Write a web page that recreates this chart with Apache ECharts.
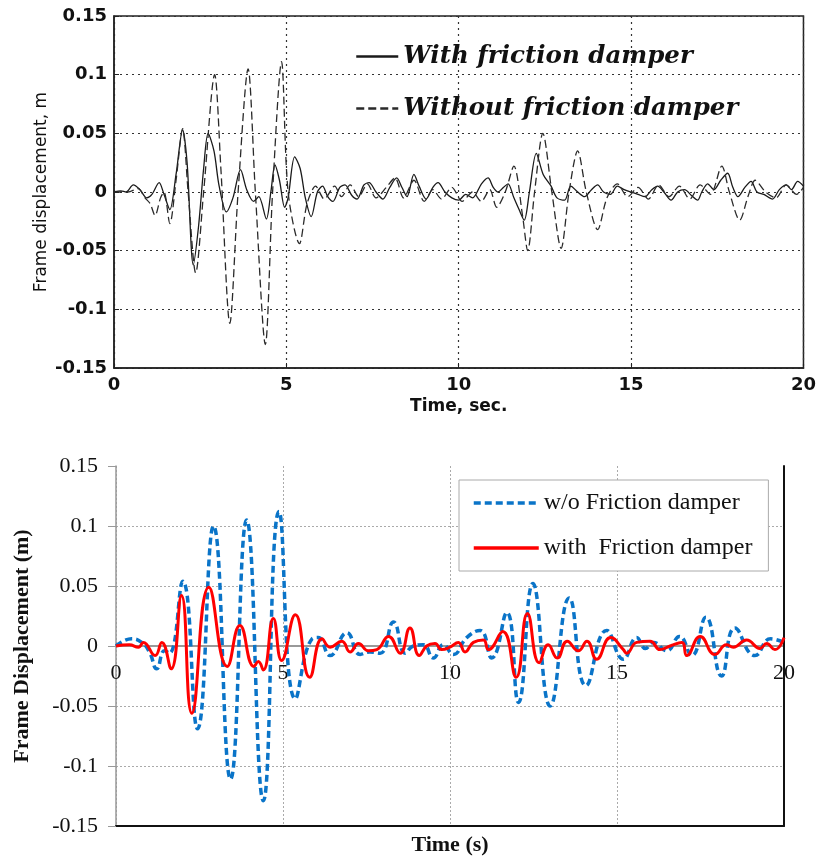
<!DOCTYPE html>
<html><head><meta charset="utf-8">
<script src="https://cdn.jsdelivr.net/npm/echarts@6/dist/echarts.min.js"></script>
<style>html,body{margin:0;padding:0;background:#fff}#c{width:819px;height:857px}</style>
</head><body><div id="c"></div><script>
// ---- data (time s, displacement m) ----
const topWith = [[0,0],[0.2,0.001],[0.35,0],[0.56,0.006],[0.75,0.002],[0.95,-0.005],[1.1,-0.002],[1.31,0.008],[1.45,-0.002],[1.62,-0.015],[1.8,0.015],[1.99,0.053],[2.12,0.025],[2.3,-0.062],[2.45,-0.03],[2.6,0.02],[2.73,0.05],[2.9,0.035],[3.05,0.005],[3.26,-0.017],[3.45,-0.005],[3.67,0.019],[3.85,0.002],[4.05,-0.008],[4.2,-0.004],[4.42,-0.023],[4.55,0.0],[4.67,0.023],[4.8,0.01],[4.95,-0.013],[5.05,-0.005],[5.24,0.030],[5.4,0.02],[5.55,-0.005],[5.72,-0.021],[5.9,0.0],[6.05,0.005],[6.2,-0.004],[6.35,-0.008],[6.55,0.004],[6.7,0.006],[6.9,-0.003],[7.05,-0.006],[7.25,0.006],[7.4,0.008],[7.6,0.0],[7.8,-0.006],[8.0,0.004],[8.2,0.012],[8.35,0.004],[8.5,-0.004],[8.7,0.015],[8.85,0.005],[9.05,-0.006],[9.25,0.004],[9.4,0.008],[9.6,0.0],[9.8,-0.005],[10.0,-0.007],[10.2,-0.002],[10.4,-0.005],[10.66,0.007],[10.85,0.012],[11.0,0.004],[11.14,0.0],[11.3,0.004],[11.43,0.007],[11.6,-0.005],[11.75,-0.015],[11.9,-0.024],[12.05,0.0],[12.25,0.033],[12.45,0.015],[12.68,0.005],[12.85,-0.005],[13.07,-0.007],[13.25,0.005],[13.45,0.0],[13.65,-0.004],[13.85,0.002],[14.03,0.006],[14.2,0.0],[14.4,-0.002],[14.6,0.005],[14.8,0.002],[15.0,0.0],[15.2,-0.002],[15.4,-0.004],[15.6,0.002],[15.77,0.005],[15.95,0.0],[16.16,-0.007],[16.35,0.0],[16.55,0.002],[16.75,-0.003],[16.93,-0.007],[17.05,0.0],[17.22,0.007],[17.4,0.002],[17.6,0.01],[17.8,0.016],[17.95,0.004],[18.1,-0.004],[18.3,0.004],[18.48,0.009],[18.65,0.0],[18.85,-0.002],[19.1,-0.006],[19.3,0.002],[19.5,0.006],[19.65,0.002],[19.83,0.009],[20,0.005]];
const topWithout = [[0,0],[0.4,0.0],[0.7,0.003],[0.9,-0.005],[1.05,-0.01],[1.19,-0.02],[1.35,-0.005],[1.45,0.0],[1.62,-0.027],[1.8,0.01],[1.99,0.054],[2.15,0.0],[2.37,-0.069],[2.6,0.0],[2.92,0.100],[3.1,0.02],[3.36,-0.112],[3.6,0.0],[3.89,0.105],[4.1,0.0],[4.39,-0.130],[4.6,0.0],[4.86,0.111],[5.05,0.0],[5.38,-0.044],[5.6,-0.01],[5.85,0.005],[6.1,-0.006],[6.4,0.005],[6.6,-0.004],[6.85,0.006],[7.1,-0.004],[7.35,0.007],[7.6,-0.005],[7.9,0.004],[8.15,0.012],[8.4,-0.005],[8.7,0.01],[9.0,-0.008],[9.25,0.002],[9.5,-0.006],[9.8,0.004],[10.1,-0.008],[10.4,0.0],[10.65,-0.008],[10.9,0.002],[11.1,-0.013],[11.35,0.0],[11.6,0.022],[11.85,-0.02],[12.0,-0.05],[12.2,0.0],[12.44,0.05],[12.7,0.0],[12.97,-0.048],[13.2,0.0],[13.45,0.035],[13.7,0.0],[14.03,-0.032],[14.3,-0.005],[14.6,0.007],[14.9,-0.004],[15.2,0.004],[15.5,-0.006],[15.8,0.006],[16.1,-0.004],[16.4,0.005],[16.7,-0.006],[17.0,0.006],[17.3,-0.002],[17.63,0.022],[17.85,0.0],[18.15,-0.024],[18.4,-0.003],[18.6,0.01],[18.9,0.0],[19.2,-0.005],[19.5,0.006],[19.8,-0.002],[20,0.004]];
const botWithout = [[0,0],[0.47,0.006],[0.77,0.003],[1.0,-0.005],[1.22,-0.019],[1.45,-0.004],[1.6,-0.006],[2.0,0.054],[2.44,-0.069],[2.92,0.100],[3.43,-0.111],[3.91,0.105],[4.41,-0.129],[4.88,0.112],[5.37,-0.044],[5.87,0.006],[6.05,0.007],[6.41,-0.008],[6.91,0.011],[7.31,-0.007],[7.6,-0.005],[7.91,-0.006],[8.31,0.020],[8.66,-0.006],[8.9,0.0],[9.2,0.001],[9.5,-0.010],[9.8,0.001],[10.1,-0.007],[10.5,0.007],[10.9,0.013],[11.25,-0.010],[11.7,0.028],[12.05,-0.047],[12.48,0.052],[13.0,-0.050],[13.57,0.040],[14.07,-0.033],[14.69,0.013],[15.19,-0.011],[15.59,0.007],[15.85,-0.002],[16.09,0.003],[16.49,-0.004],[16.87,0.008],[17.24,-0.008],[17.66,0.024],[18.13,-0.025],[18.53,0.015],[19.13,-0.008],[19.6,0.006],[20,0.003]];
const botWith = [[0,0],[0.4,0.001],[0.67,-0.001],[0.82,0.003],[1.17,-0.008],[1.37,0.003],[1.65,-0.019],[1.96,0.042],[2.27,-0.056],[2.78,0.049],[3.33,-0.017],[3.71,0.017],[4.13,-0.017],[4.26,-0.013],[4.41,-0.020],[4.71,0.023],[4.96,-0.012],[5.37,0.026],[5.8,-0.026],[6.17,0.006],[6.41,-0.001],[6.76,0.004],[7.01,-0.005],[7.26,0.002],[7.56,-0.004],[7.81,-0.003],[8.16,0.008],[8.51,-0.006],[8.8,0.015],[9.08,-0.008],[9.3,0.0],[9.55,0.002],[9.75,-0.003],[10.0,-0.001],[10.25,0.003],[10.45,-0.005],[10.7,0.003],[11.0,0.005],[11.15,-0.003],[11.58,0.012],[11.98,-0.026],[12.32,0.027],[12.67,-0.014],[12.94,0.001],[13.21,-0.010],[13.51,0.004],[13.84,-0.004],[14.1,0.004],[14.39,-0.011],[14.81,0.007],[15.19,-0.003],[15.29,-0.006],[15.59,0.003],[15.99,0.004],[16.29,-0.003],[16.59,0.0],[16.94,0.003],[17.09,-0.008],[17.49,0.008],[17.93,-0.007],[18.28,0.001],[18.48,-0.001],[18.88,0.005],[19.28,-0.002],[19.48,0.002],[19.73,-0.003],[20,0.007]];
const timeRange = [0, 20];
const dispRange = [-0.15, 0.15];
const topNames = ['With friction damper', 'Without friction damper'];
const botNames = ['w/o Friction damper', 'with  Friction damper'];

const chart = echarts.init(document.getElementById('c'), null, {renderer: 'canvas'});
const sansTxt = {fontFamily: 'DejaVu Sans', fontWeight: 'bold', fontSize: 18, color: '#111'};
const serifTxt = {fontFamily: 'Liberation Serif', fontSize: 22, color: '#111'};
const dotBlack = {show: true, lineStyle: {color: '#333', type: [2, 4], width: 1.2}};
const dotGray = {show: true, lineStyle: {color: '#aaa', type: [2, 2], width: 1}};
const noSymbol = {color: 'transparent', borderWidth: 0, opacity: 0};

chart.setOption({
  animation: false,
  backgroundColor: '#fff',
  grid: [
    {left: 114, top: 16, width: 693, height: 352, show: true, borderColor: '#222', borderWidth: 1.5, containLabel: false},
    {left: 116, top: 466, width: 668, height: 361, containLabel: false}
  ],
  legend: [
    {data: topNames, orient: 'vertical', left: 350, top: 39, itemWidth: 42, itemHeight: 14, itemGap: 27,
     selectedMode: false, lineStyle: {width: 2.5}, itemStyle: noSymbol,
     textStyle: {fontFamily: 'DejaVu Serif', fontStyle: 'italic', fontWeight: 'bold', fontSize: 24.5, color: '#111'}},
    {data: botNames, orient: 'vertical', left: 459, top: 480, itemWidth: 65, itemHeight: 14, itemGap: 21,
     padding: [11, 16, 11, 13], borderColor: '#aaa', borderWidth: 1, backgroundColor: '#fff',
     selectedMode: false, lineStyle: {width: 3.5}, itemStyle: noSymbol,
     textStyle: {fontFamily: 'Liberation Serif', fontSize: 24, color: '#111'}}
  ],
  xAxis: [
    {gridIndex: 0, type: 'value', min: timeRange[0], max: timeRange[1], interval: 5,
     axisLine: {onZero: false, lineStyle: {color: '#222', width: 1.5}},
     axisTick: {inside: true, length: 5, lineStyle: {color: '#222'}},
     axisLabel: Object.assign({margin: 8}, sansTxt),
     splitLine: dotBlack,
     name: 'Time, sec.', nameLocation: 'middle', nameGap: 30,
     nameTextStyle: {fontFamily: 'DejaVu Sans', fontWeight: 'bold', fontSize: 17, color: '#111'}},
    {gridIndex: 1, type: 'value', min: timeRange[0], max: timeRange[1], interval: 5, position: 'bottom',
     axisLine: {onZero: false, lineStyle: {color: '#111', width: 2}},
     axisTick: {show: false},
     axisLabel: Object.assign({margin: -164}, serifTxt),
     splitLine: dotGray,
     name: 'Time (s)', nameLocation: 'middle', nameGap: 8, nameMoveOverlap: false,
     nameTextStyle: {fontFamily: 'Liberation Serif', fontWeight: 'bold', fontSize: 22, color: '#111', verticalAlign: 'top'}}
  ],
  yAxis: [
    {gridIndex: 0, type: 'value', min: dispRange[0], max: dispRange[1], interval: 0.05,
     axisLine: {onZero: false, lineStyle: {color: '#222', width: 1.5}},
     axisTick: {inside: true, length: 5, lineStyle: {color: '#222'}},
     axisLabel: Object.assign({margin: 7}, sansTxt),
     splitLine: dotBlack,
     name: 'Frame displacement, m', nameLocation: 'middle', nameGap: 64, nameMoveOverlap: false,
     nameTextStyle: {fontFamily: 'DejaVu Sans', fontSize: 17, color: '#111'}},
    {gridIndex: 1, type: 'value', min: dispRange[0], max: dispRange[1], interval: 0.05,
     axisLine: {onZero: false, lineStyle: {color: '#999', width: 1.5}},
     axisTick: {show: true, length: 8, lineStyle: {color: '#999'}},
     axisLabel: Object.assign({margin: 18}, serifTxt),
     splitLine: Object.assign({showMaxLine: false}, dotGray),
     name: 'Frame Displacement (m)', nameLocation: 'middle', nameGap: 83,
     nameTextStyle: {fontFamily: 'Liberation Serif', fontWeight: 'bold', fontSize: 22, color: '#111'}},
    {gridIndex: 1, type: 'value', min: dispRange[0], max: dispRange[1], interval: 0.15, position: 'right',
     axisLine: {show: true, onZero: false, lineStyle: {color: '#111', width: 2}},
     axisTick: {show: false}, axisLabel: {show: false},
     splitLine: {show: true, showMinLine: false, showMaxLine: false, lineStyle: {color: '#999', width: 2, type: 'solid'}}}
  ],
  series: [
    {name: topNames[0], type: 'line', xAxisIndex: 0, yAxisIndex: 0, data: topWith, symbol: 'none', smooth: 0.3,
     lineStyle: {color: '#1a1a1a', width: 1.3}, itemStyle: {color: '#1a1a1a'}},
    {name: topNames[1], type: 'line', xAxisIndex: 0, yAxisIndex: 0, data: topWithout, symbol: 'none', smooth: 0.3,
     lineStyle: {color: '#2a2a2a', width: 1.3, type: [8, 4]}, itemStyle: {color: '#2a2a2a'}},
    {name: botNames[0], type: 'line', xAxisIndex: 1, yAxisIndex: 1, data: botWithout, symbol: 'none', smooth: 0.5,
     lineStyle: {color: '#0a74c8', width: 3.5, type: [7, 4]}, itemStyle: {color: '#0a74c8'}},
    {name: botNames[1], type: 'line', xAxisIndex: 1, yAxisIndex: 1, data: botWith, symbol: 'none', smooth: 0.5,
     lineStyle: {color: '#ff0000', width: 3}, itemStyle: {color: '#ff0000'}}
  ]
});
</script></body></html>
